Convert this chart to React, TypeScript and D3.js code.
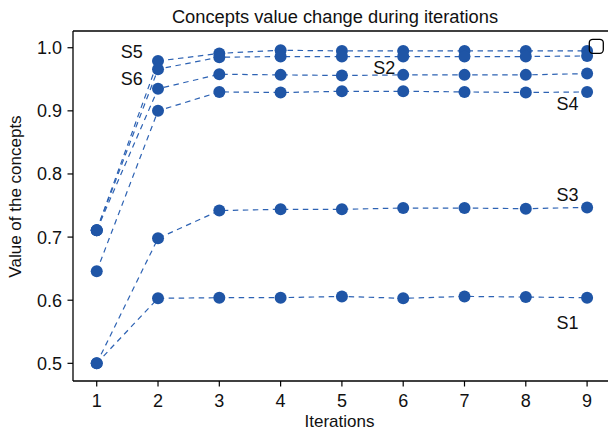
import React from 'react';
import * as d3 from 'd3';

// iterations on x axis
const iterations = [1, 2, 3, 4, 5, 6, 7, 8, 9];

// concept values
const s1 = [0.500, 0.603, 0.604, 0.604, 0.606, 0.603, 0.606, 0.605, 0.604];
const s2 = [0.711, 0.935, 0.958, 0.957, 0.956, 0.957, 0.957, 0.957, 0.959];
const s3 = [0.500, 0.698, 0.742, 0.744, 0.744, 0.746, 0.746, 0.745, 0.747];
const s4 = [0.646, 0.900, 0.930, 0.929, 0.931, 0.931, 0.930, 0.929, 0.930];
const s5 = [0.711, 0.979, 0.991, 0.996, 0.995, 0.995, 0.995, 0.995, 0.995];
const s6 = [0.711, 0.966, 0.985, 0.986, 0.986, 0.986, 0.986, 0.986, 0.987];

const seriesList = [s1, s2, s3, s4, s5, s6];

// label names and where they sit (iteration, value)
const labelNames = ['S5', 'S6', 'S2', 'S4', 'S3', 'S1'];
const labelIter = [1.57, 1.57, 5.69, 8.68, 8.68, 8.68];
const labelVal = [0.994, 0.952, 0.969, 0.912, 0.767, 0.565];

const yTicks = [0.5, 0.6, 0.7, 0.8, 0.9, 1.0];

const W = 608;
const H = 435;
const left = 73, right = 611, top = 31, bottom = 381;
const font = '"Liberation Sans", Arial, sans-serif';
const dotColor = '#1f55a6';
const lineColor = '#2d62b3';

export default function App() {
  const x = d3.scaleLinear().domain([0.613, 9.39]).range([left, right]);
  const y = d3.scaleLinear().domain([0.472, 1.0265]).range([bottom, top]);

  const line = d3.line<number>()
    .x((d, i) => x(iterations[i]))
    .y(d => y(d));

  return (
    <svg width={W} height={H} style={{position: 'absolute', left: 0, top: 0, background: '#fff'}}
      fontFamily={font}>
      <text x={335} y={23} fontSize={18.3} textAnchor="middle" fill="#111">
        Concepts value change during iterations
      </text>

      {/* frame */}
      <line x1={left} x2={W} y1={top} y2={top} stroke="#000" strokeWidth={1.3} />
      <line x1={left} x2={W} y1={bottom} y2={bottom} stroke="#000" strokeWidth={1.3} />
      <line x1={left} x2={left} y1={top} y2={bottom} stroke="#000" strokeWidth={1.3} />

      {yTicks.map(t => (
        <g key={t}>
          <line x1={left - 5.5} x2={left} y1={y(t)} y2={y(t)} stroke="#000" strokeWidth={1.2} />
          <text x={left - 11} y={y(t)} dy="0.36em" fontSize={18} textAnchor="end" fill="#111">
            {d3.format('.1f')(t)}
          </text>
        </g>
      ))}
      {iterations.map(t => (
        <g key={t}>
          <line x1={x(t)} x2={x(t)} y1={bottom} y2={bottom + 5.5} stroke="#000" strokeWidth={1.2} />
          <text x={x(t)} y={407} fontSize={18} textAnchor="middle" fill="#111">{t}</text>
        </g>
      ))}

      <text x={339.5} y={427} fontSize={17} textAnchor="middle" fill="#111">Iterations</text>
      <text transform={`translate(21,196.5) rotate(-90)`} fontSize={17} textAnchor="middle" fill="#111">
        Value of the concepts
      </text>

      {seriesList.map((s, k) => (
        <path key={'l' + k} d={line(s) || ''} fill="none" stroke={lineColor}
          strokeWidth={1.2} strokeDasharray="5.5,4.5" />
      ))}
      {seriesList.map((s, k) => (
        <g key={'d' + k}>
          {s.map((v, i) => (
            <circle key={i} cx={x(iterations[i])} cy={y(v)} r={6} fill={dotColor} />
          ))}
        </g>
      ))}

      {labelNames.map((n, i) => (
        <text key={n} x={x(labelIter[i])} y={y(labelVal[i])} dy="0.36em" fontSize={18}
          textAnchor="middle" fill="#111">{n}</text>
      ))}

      <rect x={589.3} y={39.3} width={14} height={14} rx={3.5} fill="none" stroke="#000" strokeWidth={1.3} />
    </svg>
  );
}
